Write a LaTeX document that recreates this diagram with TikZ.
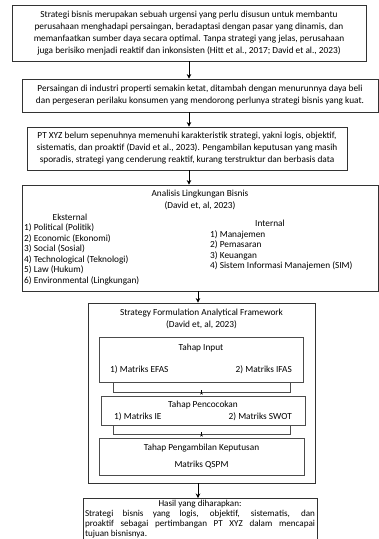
\documentclass[tikz,border=0pt]{standalone}
\usepackage{fontspec}
\setmainfont{Carlito}
\usetikzlibrary{arrows.meta,calc}
\begin{document}
\begin{tikzpicture}[x=1pt,y=-1pt,
  every node/.style={font=\fontsize{9.3}{12}\selectfont, inner sep=0pt},
  box/.style={draw=black!80, line width=0.8pt, align=center},
  ibox/.style={draw=black!70, line width=0.6pt},
  lst/.style={align=left, font=\fontsize{9.3}{10.6}\selectfont},
  arr/.style={line width=0.9pt, -{Stealth[length=4.5pt,width=4.5pt]}},
  sarr/.style={line width=0.5pt, -{Stealth[length=2.5pt,width=2.5pt]}},
  brk/.style={draw=black!70, line width=0.6pt}]
\useasboundingbox (0,0) rectangle (379,539);
\fill[white] (0,0) rectangle (379,539);

\node[box, minimum width=354pt, minimum height=56pt] (b1) at (189,33)
 {Strategi bisnis merupakan sebuah urgensi yang perlu disusun untuk membantu\\
  perusahaan menghadapi persaingan, beradaptasi dengan pasar yang dinamis, dan\\
  memanfaatkan sumber daya secara optimal. Tanpa strategi yang jelas, perusahaan\\
  juga berisiko menjadi reaktif dan inkonsisten (Hitt et al., 2017; David et al., 2023)};

\node[box, minimum width=356pt, minimum height=33pt] (b2) at (200,95.5)
 {Persaingan di industri properti semakin ketat, ditambah dengan menurunnya daya beli\\
  dan pergeseran perilaku konsumen yang mendorong perlunya strategi bisnis yang kuat.};

\node[box, minimum width=320pt, minimum height=43pt] (b3) at (187,148.5)
 {PT XYZ belum sepenuhnya memenuhi karakteristik strategi, yakni logis, objektif,\\
  sistematis, dan proaktif (David et al., 2023). Pengambilan keputusan yang masih\\
  sporadis, strategi yang cenderung reaktif, kurang terstruktur dan berbasis data};

\node[box, minimum width=356pt, minimum height=106pt] (b4) at (200,238) {};
\node[align=center] (t4) at (200,199.5) {Analisis Lingkungan Bisnis\\(David et, al, 2023)};
\node (ekst) at (70,217) {Eksternal};
\node[lst, anchor=north west] (ekl) at (24,223.5)
 {1) Political (Politik)\\2) Economic (Ekonomi)\\3) Social (Sosial)\\4) Technological (Teknologi)\\5) Law (Hukum)\\6) Environmental (Lingkungan)};
\node (intr) at (270,223) {Internal};
\node[lst, anchor=north west] (inl) at (210,230)
 {1) Manajemen\\2) Pemasaran\\3) Keuangan\\4) Sistem Informasi Manajemen (SIM)};

\node[box, minimum width=227pt, minimum height=180pt] (b5) at (201.5,393) {};
\node[align=center] (t5) at (201.5,318.5) {Strategy Formulation Analytical Framework\\(David et, al, 2023)};

\node[ibox, minimum width=204pt, minimum height=45pt] (inp) at (201,359.5) {};
\node (inpt) at (201,348) {Tahap Input};
\node[anchor=west] (efas) at (110,370) {1) Matriks EFAS};
\node[anchor=east] (ifas) at (292,370) {2) Matriks IFAS};

\node[ibox, minimum width=204pt, minimum height=29pt] (pen) at (203,410.5) {};
\node (pent) at (203,405) {Tahap Pencocokan};
\node[anchor=west] (ie) at (114,417) {1) Matriks IE};
\node[anchor=east] (swot) at (292,417) {2) Matriks SWOT};

\node[ibox, minimum width=205pt, minimum height=37pt] (pk) at (201.5,456.5) {};
\node (pkt) at (201.5,448) {Tahap Pengambilan Keputusan};
\node (qspm) at (201.5,465) {Matriks QSPM};

\node[box, anchor=north, text width=230pt, inner xsep=2pt, inner ysep=1.5pt, align=justify,
      font=\fontsize{9.1}{10}\selectfont] (b6) at (200,498)
 {{\centering Hasil yang diharapkan:\par}
  Strategi bisnis yang logis, objektif, sistematis, dan\linebreak
  proaktif sebagai pertimbangan PT XYZ dalam mencapai\linebreak
  tujuan bisnisnya.\par};

% arrows
\draw[arr] (b1.south) -- (b1.south |- b2.north);
\draw[arr] (b2.south -| b1.south) -- (b3.north -| b1.south);
\draw[arr] (b3.south -| b1.south) -- (b4.north -| b1.south);
\draw[arr] (b4.south -| 198,0) -- (b5.north -| 198,0);
\draw[arr] (b5.south -| 198,0) -- (b6.north -| 198,0);

% brackets
\coordinate (k1l) at (113,392);
\coordinate (k1r) at (290,392);
\draw[brk] (inp.south -| k1l) -- (k1l) -- (k1r) -- (inp.south -| k1r);
\draw[sarr] ($(k1l)!0.5!(k1r)$) -- ($(k1l)!0.5!(k1r)$ |- pen.north);
\coordinate (k2l) at (113,434);
\coordinate (k2r) at (290,434);
\draw[brk] (pen.south -| k2l) -- (k2l) -- (k2r) -- (pen.south -| k2r);
\draw[sarr] ($(k2l)!0.5!(k2r)$) -- ($(k2l)!0.5!(k2r)$ |- pk.north);
\end{tikzpicture}
\end{document}
